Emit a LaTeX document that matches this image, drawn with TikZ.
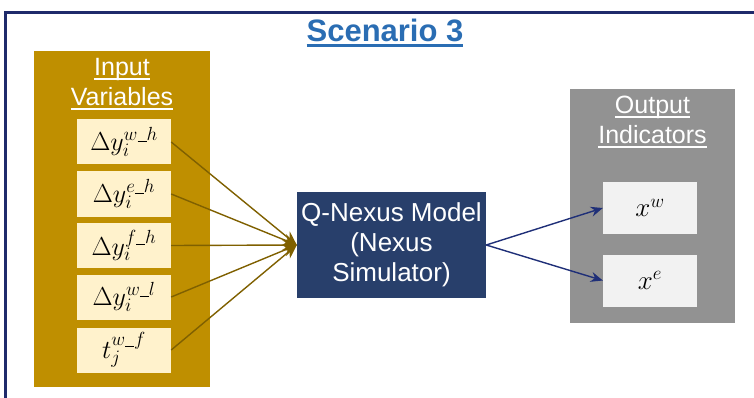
\RequirePackage{fix-cm}
\documentclass[tikz,border=0pt]{standalone}
\usepackage[no-math]{fontspec}
\setmainfont{Liberation Sans}
\usetikzlibrary{arrows.meta}

\definecolor{framenavy}{HTML}{1F2A6B}
\definecolor{titleblue}{HTML}{2A6DB3}
\definecolor{gold}{HTML}{BF8F00}
\definecolor{cream}{HTML}{FFF2CC}
\definecolor{brownline}{HTML}{7F6000}
\definecolor{modelnavy}{HTML}{283F6B}
\definecolor{panelgrey}{HTML}{929292}
\definecolor{boxgrey}{HTML}{F2F2F2}
\definecolor{arrownavy}{HTML}{1F2F78}

% larger scripts, as in the boxes
\DeclareMathSizes{26}{26}{19}{15}
\DeclareMathSizes{27}{27}{19}{15}

% underline at a fixed distance below the baseline
\newcommand{\uln}[3]{\setbox0\hbox{#3}\dp0=0pt\vtop{\box0\kern#2\hrule height #1}}
% short underscore inside superscripts
\newcommand{\us}{\rule[-1.5pt]{9pt}{1pt}}

\tikzstyle{panel} = [rectangle, inner sep=0pt]
\tikzstyle{varbox} = [rectangle, fill=cream, inner sep=0pt, minimum width=94pt, minimum height=45pt, font=\fontsize{26}{30}\selectfont]
\tikzstyle{indbox} = [rectangle, fill=boxgrey, inner sep=0pt, minimum width=94pt, minimum height=52pt, font=\fontsize{27}{30}\selectfont]
\tikzstyle{label} = [text=white, align=center, inner sep=0pt, font=\fontsize{25}{30}\selectfont]
\tikzstyle{inarrow} = [brownline, line width=1.4pt, -{Stealth[length=14pt,width=12pt]}]
\tikzstyle{outarrow} = [arrownavy, line width=1.4pt, -{Stealth[length=12pt,width=10pt]}]

\begin{document}
\begin{tikzpicture}[x=1pt,y=-1pt]
  \useasboundingbox (0,0) rectangle (754,398);
  \clip (0,0) rectangle (754,398);
  \draw[framenavy, line width=3pt] (5.5,12.5) rectangle (780,420);

  \node[text=titleblue, inner sep=0pt, font=\fontsize{31}{36}\selectfont\bfseries] (title) at (385,33) {\uln{3pt}{3pt}{Scenario 3}};

  % inputs
  \node[panel, fill=gold, minimum width=176pt, minimum height=336pt] (inpanel) at (122,219) {};
  \node[label] (inlabel) at (122,84) {\uln{1.5pt}{3pt}{Input}\\\uln{1.5pt}{3pt}{Variables}};
  \node[varbox] (in1) at (124,142) {$\Delta y_i^{w\us h}$};
  \node[varbox] (in2) at (124,194) {$\Delta y_i^{e\us h}$};
  \node[varbox] (in3) at (124,245.5) {$\Delta y_i^{f\us h}$};
  \node[varbox] (in4) at (124,297) {$\Delta y_i^{w\us l}$};
  \node[varbox] (in5) at (124,350) {$t_j^{w\us f}$};

  % model
  \node[panel, fill=modelnavy, text=white, align=center, minimum width=189pt, minimum height=106pt, font=\fontsize{26}{30}\selectfont] (model) at (391.5,245) {Q-Nexus Model\\(Nexus\\Simulator)};

  % outputs
  \node[panel, fill=panelgrey, minimum width=165pt, minimum height=234pt] (outpanel) at (652.5,206) {};
  \node[label] (outlabel) at (652.5,122) {\uln{1.5pt}{3pt}{Output}\\\uln{1.5pt}{3pt}{Indicators}};
  \node[indbox] (out1) at (650,208) {$x^w$};
  \node[indbox] (out2) at (650,280.5) {$x^e$};

  \draw[inarrow] (in1.east) -- (model.west);
  \draw[inarrow] (in2.east) -- (model.west);
  \draw[inarrow] (in3.east) -- (model.west);
  \draw[inarrow] (in4.east) -- (model.west);
  \draw[inarrow] (in5.east) -- (model.west);

  \draw[outarrow] (model.east) -- (out1.west);
  \draw[outarrow] (model.east) -- (out2.west);
\end{tikzpicture}
\end{document}
